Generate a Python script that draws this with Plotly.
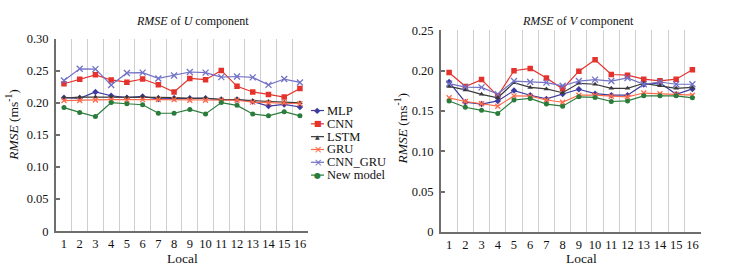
import plotly.graph_objects as go

# ---------------- data ----------------
locals_ = list(range(1, 17))
x_labels = [str(i) for i in locals_]

series_names = ["MLP", "CNN", "LSTM", "GRU", "CNN_GRU", "New model"]

u_mlp = [0.208, 0.207, 0.217, 0.211, 0.208, 0.210, 0.206, 0.207, 0.207, 0.207, 0.205, 0.205, 0.202, 0.195, 0.1975, 0.1935]
u_cnn = [0.2297, 0.2366, 0.2436, 0.2356, 0.2322, 0.2371, 0.2282, 0.2168, 0.238, 0.236, 0.2505, 0.2257, 0.2168, 0.213, 0.209, 0.2223]
u_lstm = [0.2075, 0.209, 0.209, 0.209, 0.2085, 0.2094, 0.2085, 0.208, 0.207, 0.2075, 0.205, 0.205, 0.203, 0.202, 0.201, 0.200]
u_gru = [0.2035, 0.2035, 0.2045, 0.205, 0.2045, 0.205, 0.205, 0.205, 0.204, 0.204, 0.204, 0.204, 0.201, 0.200, 0.200, 0.1985]
u_cnn_gru = [0.2347, 0.253, 0.2525, 0.2277, 0.2465, 0.247, 0.238, 0.2426, 0.248, 0.247, 0.240, 0.241, 0.2396, 0.228, 0.237, 0.2317]
u_new = [0.1926, 0.185, 0.1787, 0.2003, 0.1985, 0.197, 0.1837, 0.1837, 0.1896, 0.1827, 0.2003, 0.196, 0.1827, 0.1797, 0.1862, 0.1797]

v_mlp = [0.186, 0.161, 0.1586, 0.1625, 0.1754, 0.1696, 0.165, 0.171, 0.177, 0.1715, 0.1696, 0.1696, 0.183, 0.185, 0.1707, 0.1774]
v_cnn = [0.1977, 0.1805, 0.189, 0.1688, 0.200, 0.2028, 0.191, 0.1775, 0.1995, 0.2137, 0.1953, 0.1945, 0.1895, 0.1875, 0.1895, 0.2012]
v_lstm = [0.1805, 0.1762, 0.1707, 0.1664, 0.1852, 0.1793, 0.1774, 0.1727, 0.1844, 0.1832, 0.1782, 0.1782, 0.1844, 0.1813, 0.1782, 0.1793]
v_gru = [0.1664, 0.1618, 0.159, 0.156, 0.1688, 0.1684, 0.1637, 0.1609, 0.1696, 0.1696, 0.1684, 0.1676, 0.1723, 0.1715, 0.1707, 0.1696]
v_cnn_gru = [0.184, 0.1797, 0.1793, 0.171, 0.1872, 0.186, 0.1852, 0.1813, 0.1872, 0.189, 0.1872, 0.191, 0.1832, 0.186, 0.1832, 0.1832]
v_new = [0.1625, 0.1547, 0.1508, 0.147, 0.1637, 0.1656, 0.1586, 0.156, 0.1676, 0.1668, 0.1618, 0.1625, 0.1688, 0.1688, 0.1688, 0.1664]

u_ticks = [0, 0.05, 0.10, 0.15, 0.20, 0.25, 0.30]
u_ticktext = ["0", "0.05", "0.10", "0.15", "0.20", "0.25", "0.30"]
v_ticks = [0, 0.05, 0.10, 0.15, 0.20, 0.25]
v_ticktext = ["0", "0.05", "0.10", "0.15", "0.20", "0.25"]

# ---------------- styles ----------------
W, H = 743, 279
FONT = "Liberation Serif"
AXC = "#6e6e6e"
GRIDC = "#cfcfcf"

styles = {
    "MLP": dict(color="#3d3b9e", symbol="diamond", size=5, glyph="\u25C6", gsize=8),
    "CNN": dict(color="#e4322c", symbol="square", size=5.5, glyph="\u25A0", gsize=8),
    "LSTM": dict(color="#3a3a3a", symbol="triangle-up", size=5, glyph="\u25B2", gsize=6),
    "GRU": dict(color="#ff6a4a", symbol="x-thin", size=5, glyph="\u00D7", gsize=10),
    "CNN_GRU": dict(color="#7272c6", symbol="x-thin", size=6, glyph="\u00D7", gsize=10),
    "New model": dict(color="#2a7c3b", symbol="circle", size=5, glyph="\u25CF", gsize=8),
}

u_data = [u_mlp, u_cnn, u_lstm, u_gru, u_cnn_gru, u_new]
v_data = [v_mlp, v_cnn, v_lstm, v_gru, v_cnn_gru, v_new]

fig = go.Figure()


def add_series(vals, name, xa, ya):
    st = styles[name]
    thin = st["symbol"].startswith("x")
    marker = dict(symbol=st["symbol"], size=st["size"], color=st["color"])
    if thin:
        marker["line"] = dict(width=1.3, color=st["color"])
    else:
        marker["line"] = dict(width=0)
    fig.add_trace(go.Scatter(
        x=locals_, y=vals, name=name, mode="lines+markers",
        line=dict(color=st["color"], width=1.2),
        marker=marker, xaxis=xa, yaxis=ya, showlegend=False,
    ))


for name, vals in zip(series_names, u_data):
    add_series(vals, name, "x", "y")
for name, vals in zip(series_names, v_data):
    add_series(vals, name, "x2", "y2")

grid_positions = [i + 0.5 for i in locals_]


def xaxis_cfg(domain, anchor):
    return dict(
        domain=domain, anchor=anchor, range=[0.5, 16.5],
        tickmode="array", tickvals=locals_, ticktext=x_labels,
        showgrid=False, zeroline=False,
        showline=True, linecolor=AXC, linewidth=2,
        ticks="", tickfont=dict(family=FONT, size=12.5, color="#111"),
        minor=dict(tickmode="array", tickvals=grid_positions, showgrid=True,
                   gridcolor=GRIDC, gridwidth=1.3, ticks=""),
        fixedrange=True,
    )


def yaxis_cfg(domain, anchor, rng, tv, tt):
    return dict(
        domain=domain, anchor=anchor, range=rng,
        tickmode="array", tickvals=tv, ticktext=tt,
        showgrid=False, zeroline=False,
        showline=True, linecolor=AXC, linewidth=2,
        ticks="inside", ticklen=4, tickcolor=AXC, tickwidth=1.5,
        ticklabelstandoff=3,
        tickfont=dict(family=FONT, size=12.5, color="#111"),
        fixedrange=True,
    )


fig.update_layout(
    width=W, height=H,
    margin=dict(l=0, r=0, t=0, b=0),
    paper_bgcolor="white", plot_bgcolor="white",
    font=dict(family=FONT, color="#111"),
    xaxis=xaxis_cfg([56.1 / W, 307.8 / W], "y"),
    yaxis=yaxis_cfg([(H - 236) / H, (H - 33.3) / H], "x", [0, 0.30], u_ticks, u_ticktext),
    xaxis2=xaxis_cfg([441.0 / W, 700.5 / W], "y2"),
    yaxis2=yaxis_cfg([(H - 236.7) / H, (H - 24.7) / H], "x2", [0, 0.25], v_ticks, v_ticktext),
    showlegend=False,
)

ann = []
shapes = []


def px(x):
    return x / W


def py(y):
    return 1 - y / H


# titles
ann.append(dict(text="<i>RMSE</i> of <i>U</i> component", x=px(192), y=py(15),
                xref="paper", yref="paper", showarrow=False, xanchor="center", yanchor="middle",
                font=dict(family=FONT, size=12, color="#111")))
ann.append(dict(text="<i>RMSE</i> of <i>V</i> component", x=px(578), y=py(15),
                xref="paper", yref="paper", showarrow=False, xanchor="center", yanchor="middle",
                font=dict(family=FONT, size=12, color="#111")))
# axis titles
for xc in (182, 581.5):
    ann.append(dict(text="Local", x=px(xc), y=py(264.5), xref="paper", yref="paper",
                    showarrow=False, xanchor="center", yanchor="middle",
                    font=dict(family=FONT, size=13.5, color="#111")))
for xc, yc in ((13, 124), (402, 128)):
    ann.append(dict(text="<i>RMSE</i> (ms<sup>-1</sup>)", x=px(xc), y=py(yc), xref="paper", yref="paper",
                    showarrow=False, xanchor="center", yanchor="middle", textangle=-90,
                    font=dict(family=FONT, size=13.5, color="#111")))

# manual compact legend
leg_y = [109, 123, 136.5, 150, 163.5, 177]
for name, yy in zip(series_names, leg_y):
    st = styles[name]
    shapes.append(dict(type="line", xref="paper", yref="paper",
                       x0=px(311), x1=px(324), y0=py(yy), y1=py(yy),
                       line=dict(color=st["color"], width=1.2)))
    ann.append(dict(text=st["glyph"], x=px(317.5), y=py(yy), xref="paper", yref="paper",
                    showarrow=False, xanchor="center", yanchor="middle",
                    font=dict(family="DejaVu Sans", size=st["gsize"], color=st["color"])))
    ann.append(dict(text=name, x=px(325), y=py(yy), xref="paper", yref="paper",
                    showarrow=False, xanchor="left", yanchor="middle",
                    font=dict(family=FONT, size=12.5, color="#111")))

fig.update_layout(annotations=ann, shapes=shapes)

fig.write_html(
    "out.html",
    config={"displayModeBar": False},
    post_script="document.documentElement.style.margin='0';document.body.style.margin='0';"
                "document.documentElement.style.overflow='hidden';document.body.style.overflow='hidden';",
)
